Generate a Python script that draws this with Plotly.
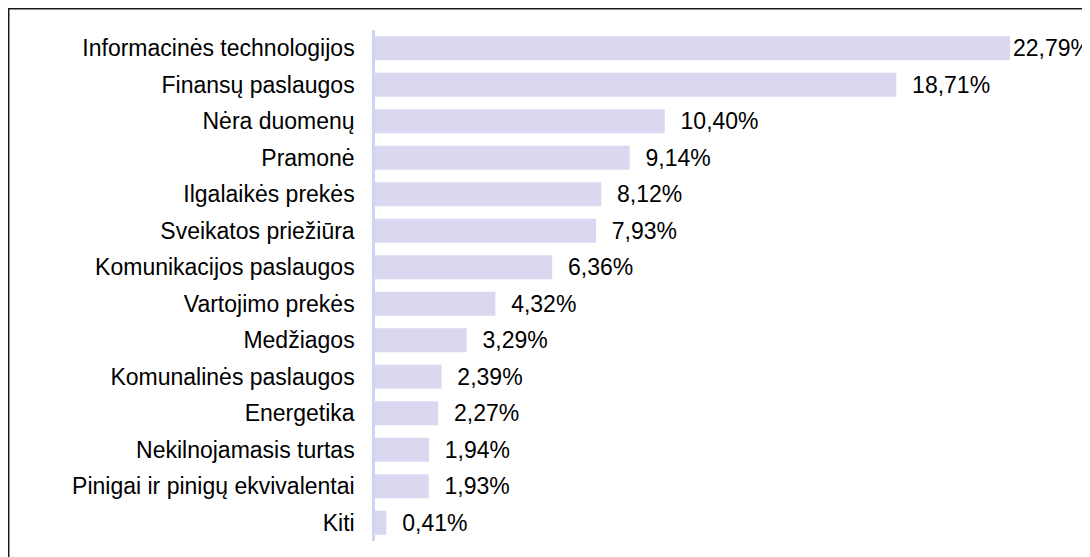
import plotly.graph_objects as go

categories = [
    "Informacinės technologijos",
    "Finansų paslaugos",
    "Nėra duomenų",
    "Pramonė",
    "Ilgalaikės prekės",
    "Sveikatos priežiūra",
    "Komunikacijos paslaugos",
    "Vartojimo prekės",
    "Medžiagos",
    "Komunalinės paslaugos",
    "Energetika",
    "Nekilnojamasis turtas",
    "Pinigai ir pinigų ekvivalentai",
    "Kiti",
]
values = [22.79, 18.71, 10.40, 9.14, 8.12, 7.93, 6.36, 4.32, 3.29, 2.39, 2.27, 1.94, 1.93, 0.41]

labels = [f"{v:.2f}".replace(".", ",") + "%" for v in values]
vmax = max(values)
display = [l if v == vmax else "\u00a0\u00a0" + l for v, l in zip(values, labels)]

FONT = "Arial, Liberation Sans, sans-serif"
FS = 23

fig = go.Figure(
    go.Bar(
        x=values,
        y=categories,
        orientation="h",
        marker=dict(color="#dad8f1", line=dict(width=0)),
        text=display,
        textposition="outside",
        cliponaxis=False,
        constraintext="none",
        textfont=dict(family=FONT, size=FS, color="#000"),
        hoverinfo="skip",
    )
)

fig.update_layout(
    width=1090,
    height=557,
    margin=dict(l=367, r=88, t=22, b=24),
    paper_bgcolor="white",
    plot_bgcolor="white",
    bargap=0.34,
    showlegend=False,
    font=dict(family=FONT, size=FS, color="#000"),
    xaxis=dict(
        range=[0, vmax],
        visible=False,
        showgrid=False,
        zeroline=False,
    ),
    yaxis=dict(
        range=[13.5, -0.5],
        showline=True,
        linecolor="#cbd6f2",
        linewidth=2.5,
        ticks="",
        ticklabelstandoff=13,
        showgrid=False,
        automargin=False,
        tickfont=dict(family=FONT, size=FS, color="#000"),
    ),
    shapes=[
        dict(
            type="rect",
            xref="paper",
            yref="paper",
            x0=-0.5768,
            x1=1.2,
            y0=-0.1,
            y1=1.0415,
            line=dict(color="#1a1a1a", width=1.5),
            fillcolor="rgba(0,0,0,0)",
            layer="below",
        )
    ],
)

fig.write_html("out.html")
